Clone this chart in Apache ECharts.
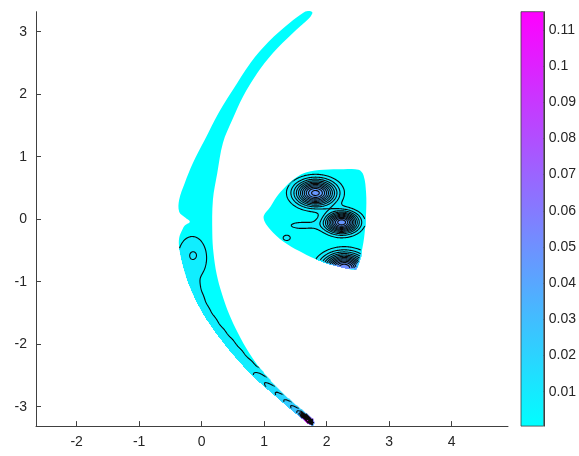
<!DOCTYPE html>
<html><head><meta charset="utf-8">
<script src="https://cdn.jsdelivr.net/npm/echarts@6/dist/echarts.min.js"></script>
<style>html,body{margin:0;padding:0;background:#fff}#c{width:579px;height:456px}</style>
</head><body><div id="c"></div><script>
// ---- tick labels ----
const xTicks = [-2, -1, 0, 1, 2, 3, 4];
const yTicks = [-3, -2, -1, 0, 1, 2, 3];
const cbTicks = [0.01, 0.02, 0.03, 0.04, 0.05, 0.06, 0.07, 0.08, 0.09, 0.1, 0.11];
const cbMin = 0.0005, cbMax = 0.115;

// ---- outlines of the data regions ----
const crescentX = [1.77,1.74,1.66,1.46,1.14,0.89,0.66,0.49,0.34,0.25,0.18,0.17,0.19,0.24,0.32,0.44,0.58,0.76,0.98,1.20,1.45,1.66,1.78,1.80,1.77,
  1.70,1.55,1.38,1.15,0.92,0.68,0.45,0.24,0.06,-0.09,-0.22,-0.31,-0.36,-0.36,-0.31,-0.27,-0.19,-0.27,-0.36,-0.36,-0.27,-0.14,0.05,0.27,0.50,0.78,1.07,1.42,1.62,1.70];
const crescentY = [3.31,3.24,3.16,2.98,2.66,2.34,1.96,1.59,1.22,0.74,0.31,-0.22,-0.55,-0.88,-1.18,-1.52,-1.82,-2.14,-2.45,-2.70,-2.93,-3.10,-3.20,-3.26,-3.30,
  -3.27,-3.14,-3.00,-2.80,-2.60,-2.36,-2.10,-1.83,-1.57,-1.30,-1.00,-0.70,-0.45,-0.30,-0.17,-0.10,-0.04,0.03,0.12,0.31,0.58,0.90,1.27,1.70,2.07,2.50,2.84,3.15,3.30,3.33];
const triangleX = [0.99,1.10,1.20,1.34,1.50,1.68,1.95,2.27,2.51,2.59,2.63,2.63,2.60,2.54,2.47,2.30,2.05,1.80,1.56,1.31,1.10];
const triangleY = [0.03,0.20,0.36,0.52,0.66,0.75,0.79,0.80,0.79,0.70,0.42,0.10,-0.28,-0.60,-0.80,-0.78,-0.72,-0.63,-0.51,-0.36,-0.17];

// ---- peaks of the surface (centre, height, spread) ----
// triangle: three main peaks, small bump, tongue; crescent: lobe, small bump, ridge along lower arm, spike at tip
const peakX   = [1.82, 2.24, 2.28, 1.36, 1.60, -0.15, -0.13,
  -0.17, -0.06, 0.04, 0.16, 0.29, 0.43, 0.57, 0.72, 0.87, 0.99, 1.10, 1.20, 1.30, 1.40, 1.50, 1.60, 1.70];
const peakY   = [0.42, -0.05, -0.78, -0.30, -0.10, -0.62, -0.57,
  -1.10, -1.28, -1.47, -1.65, -1.83, -2.00, -2.17, -2.34, -2.50, -2.60, -2.70, -2.79, -2.88, -2.96, -3.04, -3.13, -3.22];
const peakAmp = [0.046, 0.047, 0.052, 0.0055, 0.005, 0.0077, 0.0014,
  0.0048, 0.0049, 0.005, 0.0051, 0.0053, 0.0055, 0.0057, 0.006, 0.0065, 0.007, 0.0078, 0.0088, 0.010, 0.012, 0.015, 0.020, 0.110];
const peakSx  = [0.21, 0.17, 0.22, 0.07, 0.25, 0.20, 0.045,
  0.10, 0.10, 0.10, 0.10, 0.10, 0.10, 0.10, 0.10, 0.10, 0.10, 0.10, 0.10, 0.10, 0.10, 0.10, 0.09, 0.08];
const peakSy  = [0.135, 0.11, 0.15, 0.05, 0.07, 0.30, 0.045,
  0.10, 0.10, 0.10, 0.10, 0.10, 0.10, 0.10, 0.10, 0.10, 0.10, 0.10, 0.10, 0.10, 0.10, 0.09, 0.08, 0.06];
const STEP = 0.004; // contour spacing

// ---- grid evaluation ----
const H = 0.016, X0 = -0.45, Y0 = -3.34;
const NX = Math.round((2.7 - X0) / H) + 1, NY = Math.round((3.34 - Y0) / H) + 1;
const polys = [{x: crescentX, y: crescentY}, {x: triangleX, y: triangleY}];
function inside(px, py, xs, ys) {
  let c = false;
  for (let i = 0, j = xs.length - 1; i < xs.length; j = i++) {
    if (((ys[i] > py) !== (ys[j] > py)) && (px < (xs[j] - xs[i]) * (py - ys[i]) / (ys[j] - ys[i]) + xs[i])) c = !c;
  }
  return c;
}
function field(x, y) {
  let s = 0;
  for (let k = 0; k < peakX.length; k++) {
    const dx = (x - peakX[k]) / peakSx[k], dy = (y - peakY[k]) / peakSy[k];
    s += peakAmp[k] * Math.exp(-0.5 * (dx * dx + dy * dy));
  }
  return s;
}
const F = new Float64Array(NX * NY).fill(NaN);
const cells = [];
let fmax = 0;
for (let j = 0; j < NY; j++) {
  const y = Y0 + j * H;
  for (let i = 0; i < NX; i++) {
    const x = X0 + i * H;
    if (inside(x, y, crescentX, crescentY) || inside(x, y, triangleX, triangleY)) {
      const v = field(x, y);
      F[j * NX + i] = v;
      if (v > fmax) fmax = v;
      const band = Math.floor(v / STEP);
      if (band >= 1) cells.push([x, y, (band + 1) * STEP]);
    }
  }
}
// ---- marching squares ----
const levels = [];
for (let L = STEP; L < fmax; L += STEP) levels.push(L);
function contour(L) {
  const pts = new Map(), adj = new Map();
  const f = (i, j) => F[j * NX + i];
  function key(t, i, j) {
    const k = (t * 1000 + i) * 1000 + j;
    if (!pts.has(k)) {
      let x, y;
      if (t === 0) { const a = f(i, j), b = f(i + 1, j); const s = (L - a) / (b - a); x = X0 + (i + s) * H; y = Y0 + j * H; }
      else { const a = f(i, j), b = f(i, j + 1); const s = (L - a) / (b - a); x = X0 + i * H; y = Y0 + (j + s) * H; }
      pts.set(k, [x, y]); adj.set(k, []);
    }
    return k;
  }
  function link(a, b) { adj.get(a).push(b); adj.get(b).push(a); }
  for (let j = 0; j < NY - 1; j++) for (let i = 0; i < NX - 1; i++) {
    const a = f(i, j), b = f(i + 1, j), c = f(i + 1, j + 1), d = f(i, j + 1);
    if (isNaN(a) || isNaN(b) || isNaN(c) || isNaN(d)) continue;
    const A = a >= L, B = b >= L, C = c >= L, D = d >= L;
    const e = [];
    if (A !== B) e.push(0);
    if (B !== C) e.push(1);
    if (D !== C) e.push(2);
    if (A !== D) e.push(3);
    if (e.length === 0) continue;
    const ek = n => n === 0 ? key(0, i, j) : n === 1 ? key(1, i + 1, j) : n === 2 ? key(0, i, j + 1) : key(1, i, j);
    if (e.length === 2) link(ek(e[0]), ek(e[1]));
    else {
      const ctr = (a + b + c + d) / 4 >= L;
      if ((A && ctr) || (!A && !ctr)) { link(ek(0), ek(1)); link(ek(2), ek(3)); }
      else { link(ek(3), ek(0)); link(ek(1), ek(2)); }
    }
  }
  const seen = new Set(), lines = [];
  function walk(s) {
    const line = [pts.get(s)]; seen.add(s);
    let prev = -1, cur = s;
    while (true) {
      const nb = adj.get(cur); let nxt = -1;
      for (const k of nb) if (k !== prev && !seen.has(k)) { nxt = k; break; }
      if (nxt < 0) { if (cur !== s && nb.includes(s)) line.push(pts.get(s)); break; }
      seen.add(nxt); line.push(pts.get(nxt)); prev = cur; cur = nxt;
    }
    return line;
  }
  for (const [k, nb] of adj) if (nb.length === 1 && !seen.has(k)) lines.push(walk(k));
  for (const k of adj.keys()) if (!seen.has(k)) lines.push(walk(k));
  return lines;
}
const contourLines = levels.map(contour);

// ---- chart ----
const chart = echarts.init(document.getElementById('c'), null, {renderer: 'canvas'});
const axisCol = '#404040', txtCol = '#262626', font = 'Liberation Sans, Arial, sans-serif';
const labelBase = {color: txtCol, fontSize: 14, fontFamily: font};
chart.setOption({
  animation: false,
  grid: [
    {left: 36, top: 11.7, width: 472, height: 414.4},
    {left: 521, top: 11.7, width: 25, height: 414.4}
  ],
  xAxis: [
    {gridIndex: 0, type: 'value', min: -2.65, max: 4.9,
     axisLine: {show: true, onZero: false, lineStyle: {color: axisCol, width: 1}},
     axisTick: {show: true, inside: true, length: 5, customValues: xTicks, lineStyle: {color: axisCol}},
     axisLabel: Object.assign({customValues: xTicks, margin: 9}, labelBase),
     splitLine: {show: false}},
    {gridIndex: 1, type: 'value', min: 0, max: 1, show: false}
  ],
  yAxis: [
    {gridIndex: 0, type: 'value', min: -3.31, max: 3.32,
     axisLine: {show: true, onZero: false, lineStyle: {color: axisCol, width: 1}},
     axisTick: {show: true, inside: true, length: 5, customValues: yTicks, lineStyle: {color: axisCol}},
     axisLabel: Object.assign({customValues: yTicks, margin: 9}, labelBase),
     splitLine: {show: false}},
    {gridIndex: 1, type: 'value', min: cbMin, max: cbMax, position: 'right',
     axisLine: {show: true, onZero: false, lineStyle: {color: axisCol, width: 1}},
     axisTick: {show: true, inside: true, length: 4, customValues: cbTicks, lineStyle: {color: axisCol}},
     axisLabel: Object.assign({customValues: cbTicks, margin: 5, formatter: v => String(+(+v).toFixed(3))}, labelBase),
     splitLine: {show: false}}
  ],
  visualMap: {type: 'continuous', show: false, seriesIndex: 1, dimension: 2, min: cbMin, max: cbMax,
    inRange: {color: ['#00ffff', '#ff00ff']}},
  series: [
    {type: 'custom', xAxisIndex: 0, yAxisIndex: 0, silent: true, z: 2, data: polys.map((p, i) => [i]),
     renderItem: (params, api) => {
       const p = polys[params.dataIndex];
       return {type: 'polygon', shape: {smooth: 0.35, points: p.x.map((x, i) => api.coord([x, p.y[i]]))}, style: {fill: '#00ffff'}};
     }},
    {type: 'custom', xAxisIndex: 0, yAxisIndex: 0, silent: true, z: 3, progressive: 0, data: cells,
     dimensions: ['x', 'y', 'v'], encode: {x: 0, y: 1},
     renderItem: (params, api) => {
       const x = api.value(0), y = api.value(1);
       const a = api.coord([x - H / 2, y + H / 2]), b = api.coord([x + H / 2, y - H / 2]);
       return {type: 'rect', shape: {x: a[0], y: a[1], width: b[0] - a[0] + 0.5, height: b[1] - a[1] + 0.5},
               style: {fill: api.visual('color')}};
     }},
    {type: 'custom', xAxisIndex: 0, yAxisIndex: 0, silent: true, z: 4, data: levels.map((L, k) => [k]),
     renderItem: (params, api) => ({
       type: 'group',
       children: contourLines[params.dataIndex].map(pl => ({
         type: 'polyline', shape: {points: pl.map(p => api.coord(p))},
         style: {stroke: '#0a0a0a', lineWidth: 1.1, fill: null}
       }))
     })},
    {type: 'custom', xAxisIndex: 1, yAxisIndex: 1, silent: true, z: 2, data: [[0]],
     renderItem: (params, api) => {
       const a = api.coord([0, cbMax]), b = api.coord([1, cbMin]);
       return {type: 'rect', shape: {x: a[0], y: a[1], width: b[0] - a[0], height: b[1] - a[1]},
         style: {fill: new echarts.graphic.LinearGradient(0, 0, 0, 1, [{offset: 0, color: '#ff00ff'}, {offset: 1, color: '#00ffff'}]),
                 stroke: axisCol, lineWidth: 0.8}};
     }}
  ]
});
</script></body></html>
